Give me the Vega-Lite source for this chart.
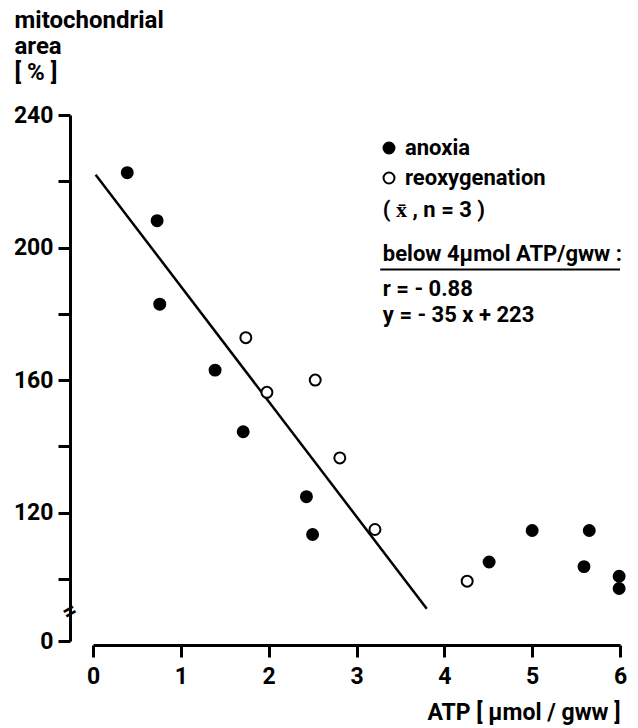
{
  "$schema": "https://vega.github.io/schema/vega-lite/v6.json",
  "width": 527,
  "height": 526,
  "autosize": {"type": "none"},
  "padding": {"left": 93, "top": 115, "right": 18, "bottom": 87},
  "background": "white",
  "config": {
    "view": {"stroke": null},
    "font": "Roboto",
    "axis": {
      "grid": false,
      "domainColor": "black",
      "tickColor": "black",
      "labelColor": "black",
      "titleColor": "black",
      "labelFont": "Roboto",
      "titleFont": "Roboto",
      "labelFontWeight": "bold",
      "titleFontWeight": "bold",
      "labelFlush": false,
      "labelOverlap": false,
      "labelBound": false
    }
  },
  "datasets": {
    "points": [
      {"x": 0.39, "y": 222.6, "group": "anoxia"},
      {"x": 0.73, "y": 208.1, "group": "anoxia"},
      {"x": 0.76, "y": 182.9, "group": "anoxia"},
      {"x": 1.39, "y": 163.0, "group": "anoxia"},
      {"x": 1.71, "y": 144.4, "group": "anoxia"},
      {"x": 2.43, "y": 124.8, "group": "anoxia"},
      {"x": 2.50, "y": 113.4, "group": "anoxia"},
      {"x": 4.51, "y": 105.1, "group": "anoxia"},
      {"x": 5.00, "y": 114.6, "group": "anoxia"},
      {"x": 5.65, "y": 114.6, "group": "anoxia"},
      {"x": 5.59, "y": 103.7, "group": "anoxia"},
      {"x": 5.99, "y": 100.8, "group": "anoxia"},
      {"x": 5.99, "y": 97.1, "group": "anoxia"},
      {"x": 1.74, "y": 172.8, "group": "reoxygenation"},
      {"x": 1.98, "y": 156.3, "group": "reoxygenation"},
      {"x": 2.53, "y": 160.0, "group": "reoxygenation"},
      {"x": 2.81, "y": 136.5, "group": "reoxygenation"},
      {"x": 3.21, "y": 114.9, "group": "reoxygenation"},
      {"x": 4.26, "y": 99.3, "group": "reoxygenation"}
    ],
    "fit": [
      {"x": 0.03, "y": 222},
      {"x": 3.8, "y": 91}
    ],
    "notes": [
      {"x": 3.30, "y": 209.3, "text": "(  x\u0304  ,  n = 3  )"},
      {"x": 3.30, "y": 195.8, "text": "below 4µmol ATP/gww :"},
      {"x": 3.30, "y": 185.3, "text": "r = - 0.88"},
      {"x": 3.30, "y": 177.4, "text": "y = - 35 x + 223"}
    ],
    "underline": [
      {"x": 3.27, "x2": 6.0, "y": 193.4}
    ],
    "brk": [
      {"x": -0.262, "y": 90, "text": "="}
    ]
  },
  "encoding": {
    "x": {
      "field": "x",
      "type": "quantitative",
      "scale": {"domain": [0, 6], "nice": false, "zero": false},
      "axis": {
        "values": [0, 1, 2, 3, 4, 5, 6],
        "format": "d",
        "tickSize": 12,
        "tickWidth": 3,
        "domainWidth": 3,
        "offset": 4,
        "labelFontSize": 23,
        "labelPadding": 8,
        "title": "ATP  [ µmol / gww ]",
        "titleFontSize": 23,
        "titleAnchor": "end",
        "titleAlign": "right",
        "titleBaseline": "alphabetic",
        "titleX": 527,
        "titleY": 74
      }
    },
    "y": {
      "field": "y",
      "type": "quantitative",
      "scale": {"domain": [0, 90, 240], "range": [526, 497, 0], "nice": false, "zero": false},
      "axis": {
        "values": [0, 100, 120, 140, 160, 180, 200, 220, 240],
        "labelExpr": "datum.value % 40 == 0 ? datum.label : ''",
        "tickSize": 12,
        "tickWidth": 3,
        "domainWidth": 3,
        "offset": 23,
        "labelFontSize": 23,
        "labelPadding": 5,
        "title": ["mitochondrial", "area", "[ % ]"],
        "titleFontSize": 24,
        "titleLineHeight": 26,
        "titleAngle": 0,
        "titleAlign": "left",
        "titleBaseline": "alphabetic",
        "titleX": -56,
        "titleY": -88
      }
    }
  },
  "layer": [
    {
      "data": {"name": "fit"},
      "mark": {"type": "line", "color": "black", "strokeWidth": 2.5}
    },
    {
      "data": {"name": "points"},
      "mark": {"type": "point", "filled": true, "shape": "circle", "size": 120, "stroke": "black", "strokeWidth": 2, "opacity": 1},
      "encoding": {
        "fill": {
          "field": "group",
          "type": "nominal",
          "scale": {"domain": ["anoxia", "reoxygenation"], "range": ["black", "white"]},
          "legend": {
            "title": null,
            "orient": "none",
            "legendX": 285,
            "legendY": 22,
            "labelFont": "Roboto",
            "labelFontSize": 22,
            "labelFontWeight": "bold",
            "labelColor": "black",
            "labelOffset": 5,
            "rowPadding": 8,
            "symbolType": "circle",
            "symbolSize": 120,
            "symbolStrokeColor": "black",
            "symbolStrokeWidth": 2,
            "symbolOpacity": 1
          }
        }
      }
    },
    {
      "data": {"name": "notes"},
      "mark": {"type": "text", "align": "left", "baseline": "alphabetic", "font": "Roboto", "fontWeight": "bold", "fontSize": 22, "color": "black"},
      "encoding": {"text": {"field": "text"}}
    },
    {
      "data": {"name": "underline"},
      "mark": {"type": "rule", "color": "black", "strokeWidth": 2},
      "encoding": {"x2": {"field": "x2"}}
    },
    {
      "data": {"name": "brk"},
      "mark": {"type": "text", "align": "center", "baseline": "middle", "angle": -30, "font": "Roboto", "fontWeight": "bold", "fontSize": 24, "color": "black"},
      "encoding": {"text": {"field": "text"}}
    }
  ]
}
